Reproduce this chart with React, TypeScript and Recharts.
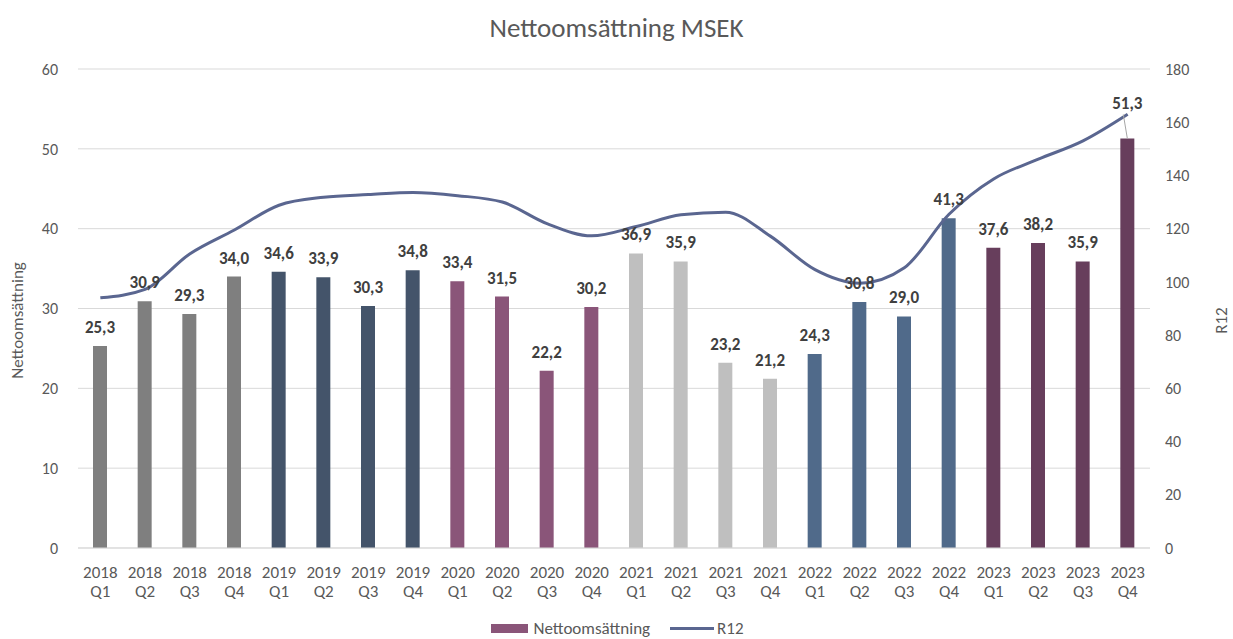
import {
  Bar,
  CartesianGrid,
  Cell,
  ComposedChart,
  LabelList,
  Legend,
  Line,
  XAxis,
  YAxis,
} from "recharts";

const quarters = [
  "2018 Q1", "2018 Q2", "2018 Q3", "2018 Q4",
  "2019 Q1", "2019 Q2", "2019 Q3", "2019 Q4",
  "2020 Q1", "2020 Q2", "2020 Q3", "2020 Q4",
  "2021 Q1", "2021 Q2", "2021 Q3", "2021 Q4",
  "2022 Q1", "2022 Q2", "2022 Q3", "2022 Q4",
  "2023 Q1", "2023 Q2", "2023 Q3", "2023 Q4",
];

const netSales = [
  25.3, 30.9, 29.3, 34.0,
  34.6, 33.9, 30.3, 34.8,
  33.4, 31.5, 22.2, 30.2,
  36.9, 35.9, 23.2, 21.2,
  24.3, 30.8, 29.0, 41.3,
  37.6, 38.2, 35.9, 51.3,
];

const r12 = [
  94.0, 97.2, 110.5, 119.5,
  128.8, 131.8, 132.8, 133.6,
  132.4, 130.0, 121.9, 117.3,
  120.8, 125.2, 126.2, 117.2,
  104.6, 99.5, 105.3, 125.4,
  138.7, 146.1, 153.0, 163.0,
];

const leftTicks = [0, 10, 20, 30, 40, 50, 60];
const rightTicks = [0, 20, 40, 60, 80, 100, 120, 140, 160, 180];

const yearColors: Record<string, string> = {
  "2018": "#7f7f7f",
  "2019": "#44546a",
  "2020": "#8a5579",
  "2021": "#bfbfbf",
  "2022": "#506a8a",
  "2023": "#673e5c",
};

const data = quarters.map((q, i) => ({ q, sales: netSales[i], r12: r12[i] }));

const font = "Calibri, Carlito, 'Open Sans', sans-serif";
const textGrey = "#595959";

function QuarterTick(props: any) {
  const { x, y, payload } = props;
  const [year, quarter] = String(payload.value).split(" ");
  return (
    <text x={x} y={y} textAnchor="middle" fill={textGrey} fontSize={17} fontFamily={font}>
      <tspan x={x} dy={22}>{year}</tspan>
      <tspan x={x} dy={19}>{quarter}</tspan>
    </text>
  );
}

function SalesLabel(props: any) {
  const { x, y, width, value, index } = props;
  const cx = x + width / 2;
  const text = Number(value).toFixed(1).replace(".", ",");
  if (index === netSales.length - 1) {
    // last label sits above the R12 line, with a leader line down to the bar
    return (
      <g>
        <line x1={cx} y1={y} x2={cx - 4} y2={y - 24} stroke="#a6a6a6" strokeWidth={1} />
        <text x={cx} y={y - 29} textAnchor="middle" fill="#404040" fontSize={17} fontWeight="bold" fontFamily={font}>
          {text}
        </text>
      </g>
    );
  }
  return (
    <text x={cx} y={y - 13} textAnchor="middle" fill="#404040" fontSize={17} fontWeight="bold" fontFamily={font}>
      {text}
    </text>
  );
}

function AxisTitle(props: any) {
  const { viewBox, value, side } = props;
  const x = side === "left" ? 17 : 1221;
  const y = viewBox.y + viewBox.height / 2 + 12;
  return (
    <text
      x={x}
      y={y}
      transform={`rotate(-90, ${x}, ${y})`}
      textAnchor="middle"
      dominantBaseline="central"
      fill={textGrey}
      fontSize={17}
      fontFamily={font}
    >
      {value}
    </text>
  );
}

function LegendContent() {
  return (
    <div
      style={{
        display: "flex",
        justifyContent: "center",
        alignItems: "center",
        gap: 20,
        fontFamily: font,
        fontSize: 17,
        lineHeight: "20px",
        color: textGrey,
        height: 25,
        paddingLeft: 2,
        transform: "translateY(2px)",
      }}
    >
      <span style={{ display: "flex", alignItems: "center", gap: 5 }}>
        <span style={{ width: 37, height: 9, background: "#8a5579", display: "inline-block" }} />
        Nettoomsättning
      </span>
      <span style={{ display: "flex", alignItems: "center", gap: 3 }}>
        <span style={{ width: 44, height: 3, background: "#5a6690", display: "inline-block" }} />
        R12
      </span>
    </div>
  );
}

export default function App() {
  return (
    <div style={{ position: "absolute", left: 0, top: 0, width: 1233, height: 639, background: "#fff", overflow: "hidden" }}>
      <div
        style={{
          position: "absolute",
          top: 11,
          left: 0,
          width: 1233,
          textAlign: "center",
          fontFamily: font,
          fontSize: 27,
          color: textGrey,
        }}
      >
        Nettoomsättning MSEK
      </div>
      <ComposedChart
        width={1233}
        height={639}
        data={data}
        margin={{ top: 69, right: 0, bottom: 0, left: 0 }}
        barSize={14}
      >
        <CartesianGrid stroke="#d9d9d9" vertical={false} yAxisId="left" />
        <XAxis
          dataKey="q"
          interval={0}
          tickLine={false}
          axisLine={{ stroke: "#d9d9d9" }}
          tick={<QuarterTick />}
          height={66}
        />
        <YAxis
          yAxisId="left"
          domain={[0, 60]}
          ticks={leftTicks}
          width={78}
          axisLine={false}
          tickLine={false}
          tickMargin={14}
          tick={{ fill: textGrey, fontSize: 16, fontFamily: font }}
          label={<AxisTitle value="Nettoomsättning" side="left" />}
        />
        <YAxis
          yAxisId="right"
          orientation="right"
          domain={[0, 180]}
          ticks={rightTicks}
          width={83}
          axisLine={false}
          tickLine={false}
          tickMargin={9}
          tick={{ fill: textGrey, fontSize: 16, fontFamily: font, textAnchor: "start" }}
          label={<AxisTitle value="R12" side="right" />}
        />
        <Legend verticalAlign="bottom" height={25} content={<LegendContent />} />
        <Bar yAxisId="left" dataKey="sales" name="Nettoomsättning" isAnimationActive={false}>
          {data.map((d) => (
            <Cell key={d.q} fill={yearColors[d.q.slice(0, 4)]} />
          ))}
          <LabelList dataKey="sales" content={<SalesLabel />} />
        </Bar>
        <Line
          yAxisId="right"
          dataKey="r12"
          name="R12"
          type="monotone"
          stroke="#5a6690"
          strokeWidth={3}
          dot={false}
          isAnimationActive={false}
        />
      </ComposedChart>
    </div>
  );
}
